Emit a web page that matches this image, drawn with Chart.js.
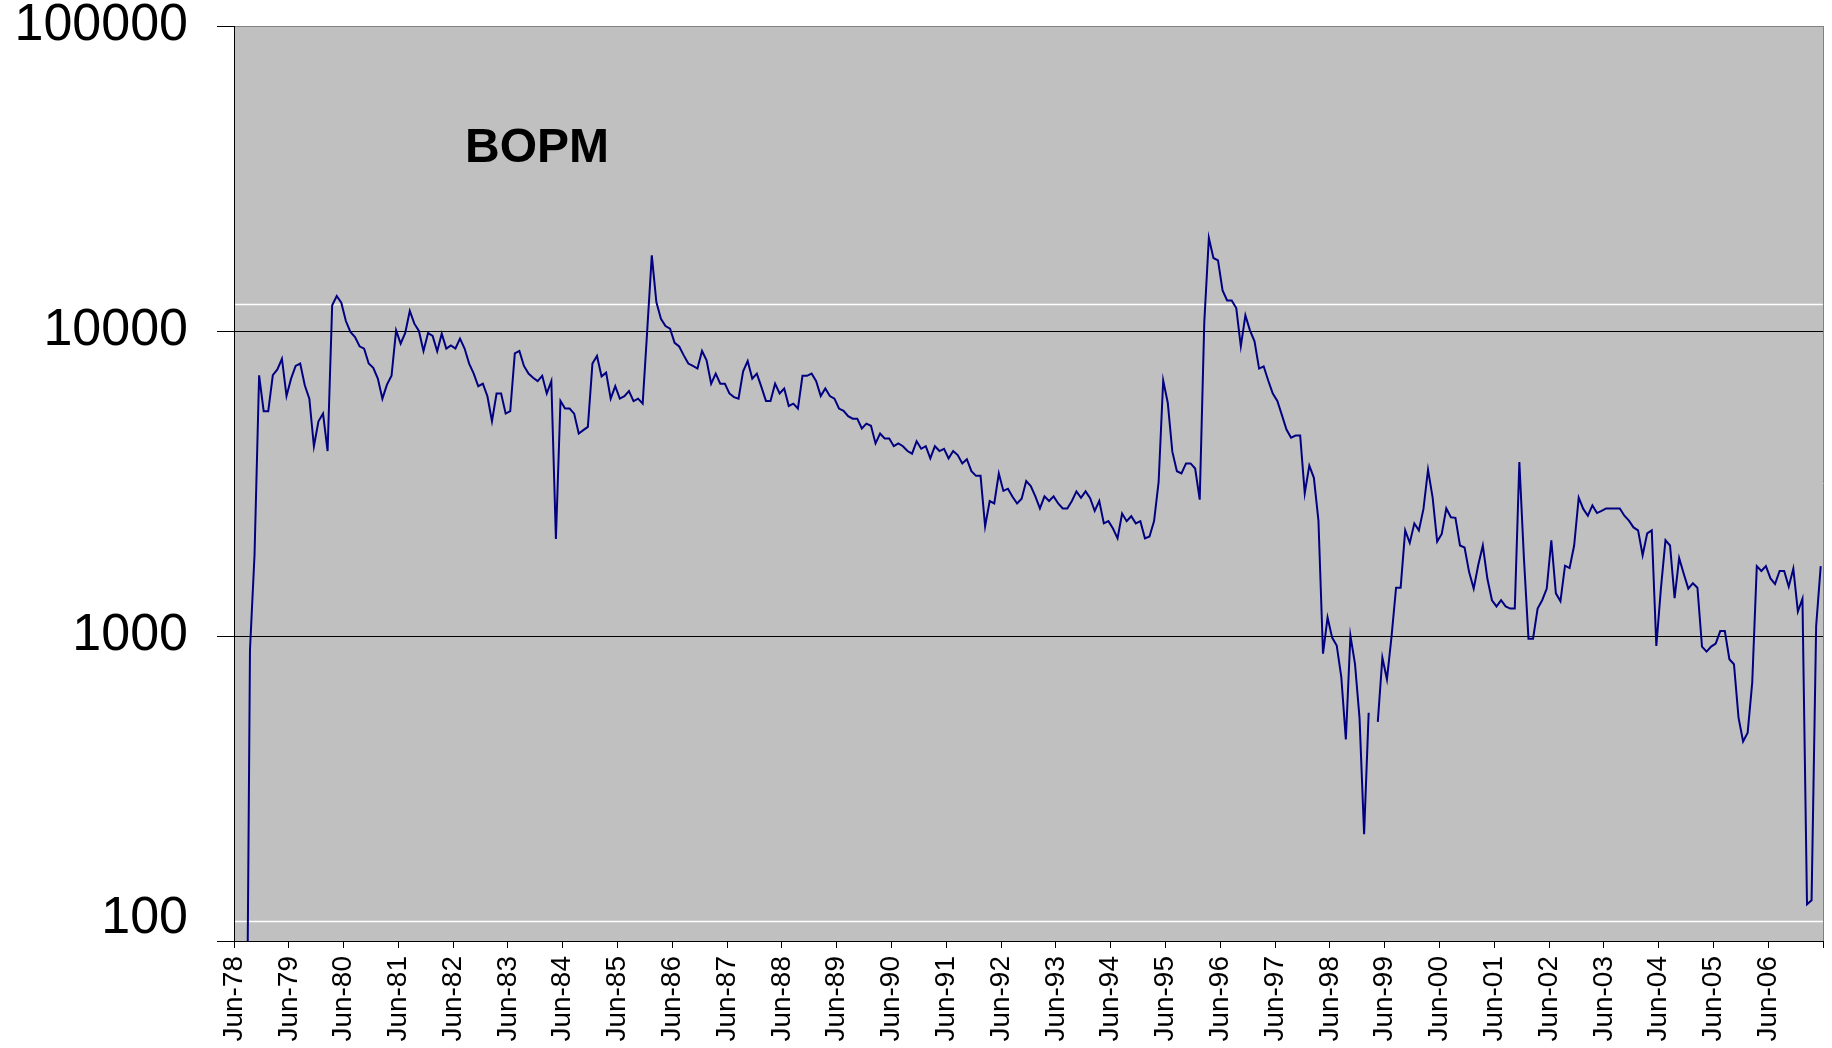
<!DOCTYPE html>
<html>
<head>
<meta charset="utf-8">
<script src="https://cdn.jsdelivr.net/npm/chart.js@4.4.1/dist/chart.umd.min.js"></script>
<style>
    html, body { margin: 0; padding: 0; background: #ffffff; }
    #wrap { width: 1832px; height: 1048px; }
</style>
</head>
<body>
<div id="wrap"><canvas id="bopmChart" width="1832" height="1048"></canvas></div>
<script>
// monthly values, each row = Jun..May of one year
var bopm78to88 = [
    null, null, 10, 900, 1850, 7160, 5460, 5460, 7160, 7480, 8110, 6120,
    6980, 7680, 7820, 6640, 6000, 4190, 5060, 5360, 4040, 12140, 13020, 12380,
    10780, 9930, 9560, 8910, 8750, 7820, 7570, 6980, 6000, 6670, 7130, 10050,
    9090, 9850, 11630, 10570, 10000, 8600, 9850, 9630, 8580, 9800, 8760, 8970,
    8760, 9440, 8760, 7820, 7250, 6590, 6720, 6110, 5060, 6240, 6240, 5360,
    5460, 8440, 8600, 7680, 7250, 7030, 6850, 7130, 6240, 6850, 2080, 5900,
    5570, 5570, 5360, 4610, 4730, 4850, 7820, 8280, 7100, 7300, 6000, 6590,
    6000, 6110, 6350, 5890, 6000, 5780, 10050, 17700, 12440, 10970, 10380, 10180,
    9140, 8900, 8320, 7820, 7680, 7530, 8600, 8010, 6720, 7250, 6720, 6720,
    6240, 6070, 6000, 7380, 7970, 6980, 7250, 6560, 5900, 5900, 6720, 6240
];
var bopm88to98 = [
    6480, 5680, 5780, 5570, 7130, 7130, 7250, 6850, 6120, 6480, 6120, 6000,
    5570, 5470, 5260, 5160, 5160, 4790, 4970, 4890, 4280, 4610, 4440, 4440,
    4190, 4280, 4190, 4040, 3960, 4350, 4110, 4190, 3820, 4190, 4040, 4110,
    3820, 4040, 3920, 3680, 3800, 3470, 3350, 3350, 2290, 2770, 2720, 3410,
    2990, 3040, 2860, 2720, 2820, 3220, 3100, 2870, 2620, 2870, 2770, 2870,
    2720, 2620, 2620, 2770, 2980, 2840, 2980, 2830, 2570, 2770, 2340, 2380,
    2250, 2090, 2520, 2380, 2470, 2340, 2380, 2090, 2120, 2380, 3200, 6880,
    5820, 4020, 3470, 3410, 3680, 3680, 3540, 2800, 10700, 20180, 17350, 17050,
    13590, 12600, 12600, 11890, 8910, 11250, 10050, 9250, 7530, 7660, 6880, 6240,
    5900, 5300, 4750, 4470, 4540, 4540, 2940, 3620, 3300, 2390, 875, 1150
];
var bopm98to07 = [
    988, 931, 735, 458, 1004, 811, 538, 224, 560, null, 523, 849,
    721, 993, 1440, 1440, 2220, 2020, 2340, 2220, 2610, 3510, 2850, 2040,
    2160, 2620, 2450, 2440, 1980, 1950, 1620, 1430, 1710, 1980, 1540, 1310,
    1250, 1310, 1250, 1230, 1230, 3720, 1800, 980, 980, 1230, 1310, 1430,
    2060, 1380, 1300, 1700, 1670, 1980, 2840, 2610, 2480, 2680, 2530, 2570,
    2620, 2620, 2620, 2620, 2480, 2390, 2270, 2220, 1840, 2170, 2220, 927,
    1430, 2060, 1980, 1330, 1800, 1600, 1430, 1490, 1440, 923, 889, 923,
    944, 1038, 1038, 839, 808, 540, 451, 482, 703, 1694, 1633, 1694,
    1545, 1480, 1633, 1633, 1451, 1663, 1202, 1325, 132, 136, 1078, 1694
];
var bopm = bopm78to88.concat(bopm88to98, bopm98to07);

var monthNames = ["Jan", "Feb", "Mar", "Apr", "May", "Jun", "Jul", "Aug", "Sep", "Oct", "Nov", "Dec"];
var yTickValues = [100, 1000, 10000, 100000];
var whiteLines = [12300, 116];
var chartTitle = "BOPM";

// month names Jun-78 .. Jun-07 (one more than the data, for the last tick)
var monthLabels = [];
for (var i = 0; i <= bopm.length; i++) {
    var mi = (5 + i) % 12;
    var yr = (78 + Math.floor((5 + i) / 12)) % 100;
    monthLabels.push(monthNames[mi] + "-" + String(yr).padStart(2, "0"));
}

// each month sits in the middle of its slot, ticks on slot edges
var points = bopm.map(function (v, k) { return { x: k + 0.5, y: v }; });

var font = "'Liberation Sans', Arial, sans-serif";

var plotDecor = {
    id: 'plotDecor',
    beforeDraw: function (chart) {
        var a = chart.chartArea, ctx = chart.ctx;
        ctx.save();
        ctx.fillStyle = '#c0c0c0';
        ctx.fillRect(a.left, a.top, a.right - a.left, a.bottom - a.top);
        ctx.restore();
    },
    beforeDatasetsDraw: function (chart) {
        var a = chart.chartArea, ctx = chart.ctx, y = chart.scales.y;
        ctx.save();
        ctx.strokeStyle = '#ffffff';
        ctx.lineWidth = 1.5;
        whiteLines.forEach(function (v) {
            var py = Math.round(y.getPixelForValue(v)) + 0.5;
            ctx.beginPath();
            ctx.moveTo(a.left + 1, py);
            ctx.lineTo(a.right, py);
            ctx.stroke();
        });
        // right border
        ctx.strokeStyle = '#808080';
        ctx.lineWidth = 1;
        ctx.beginPath();
        ctx.moveTo(a.right + 0.5, a.top);
        ctx.lineTo(a.right + 0.5, a.bottom);
        ctx.stroke();
        ctx.restore();
    },
    afterDraw: function (chart) {
        var a = chart.chartArea, ctx = chart.ctx;
        ctx.save();
        ctx.fillStyle = '#000000';
        ctx.font = "bold 48px " + font;
        ctx.textBaseline = 'alphabetic';
        ctx.fillText(chartTitle, a.left + 231, a.top + 136);
        ctx.restore();
    }
};

var ctx = document.getElementById('bopmChart').getContext('2d');
var myChart = new Chart(ctx, {
    type: 'line',
    data: {
        datasets: [{
            label: chartTitle,
            data: points,
            borderColor: '#000080',
            borderWidth: 2,
            pointRadius: 0,
            tension: 0,
            spanGaps: false
        }]
    },
    options: {
        responsive: false,
        animation: false,
        devicePixelRatio: 1,
        layout: { padding: { left: 0, top: 26, right: 9, bottom: 0 } },
        plugins: {
            legend: { display: false },
            tooltip: { enabled: false }
        },
        scales: {
            x: {
                type: 'linear',
                min: 0,
                max: bopm.length,
                ticks: {
                    stepSize: 12,
                    autoSkip: false,
                    maxRotation: 90,
                    minRotation: 90,
                    padding: 8,
                    color: '#000000',
                    font: { family: font, size: 28 },
                    callback: function (v) {
                        return v >= bopm.length ? '' : monthLabels[v];
                    }
                },
                grid: { drawOnChartArea: false, drawTicks: true, tickLength: 7, tickColor: '#000000' },
                border: { color: '#000000', width: 1 },
                afterFit: function (s) {
                    s.height = 107;
                    s.paddingLeft = 0;
                    s.paddingRight = 0;
                }
            },
            y: {
                type: 'logarithmic',
                min: 100,
                max: 100000,
                afterBuildTicks: function (s) {
                    s.ticks = yTickValues.map(function (v) { return { value: v }; });
                },
                ticks: {
                    padding: 29,
                    color: '#000000',
                    font: { family: font, size: 52, lineHeight: 0.85 },
                    // bottom label sits a little above its line, as in the original
                    callback: function (v) { return v === 100 ? [String(v), ''] : String(v); }
                },
                grid: {
                    color: function (c) {
                        return c.tick && c.tick.value === 100000 ? '#808080' : '#000000';
                    },
                    lineWidth: 1,
                    tickLength: 17,
                    tickColor: '#000000'
                },
                border: { color: '#000000', width: 1 },
                afterFit: function (s) {
                    s.width = 234;
                    s.paddingTop = 0;
                    s.paddingBottom = 0;
                }
            }
        }
    },
    plugins: [plotDecor]
});
</script>
</body>
</html>
